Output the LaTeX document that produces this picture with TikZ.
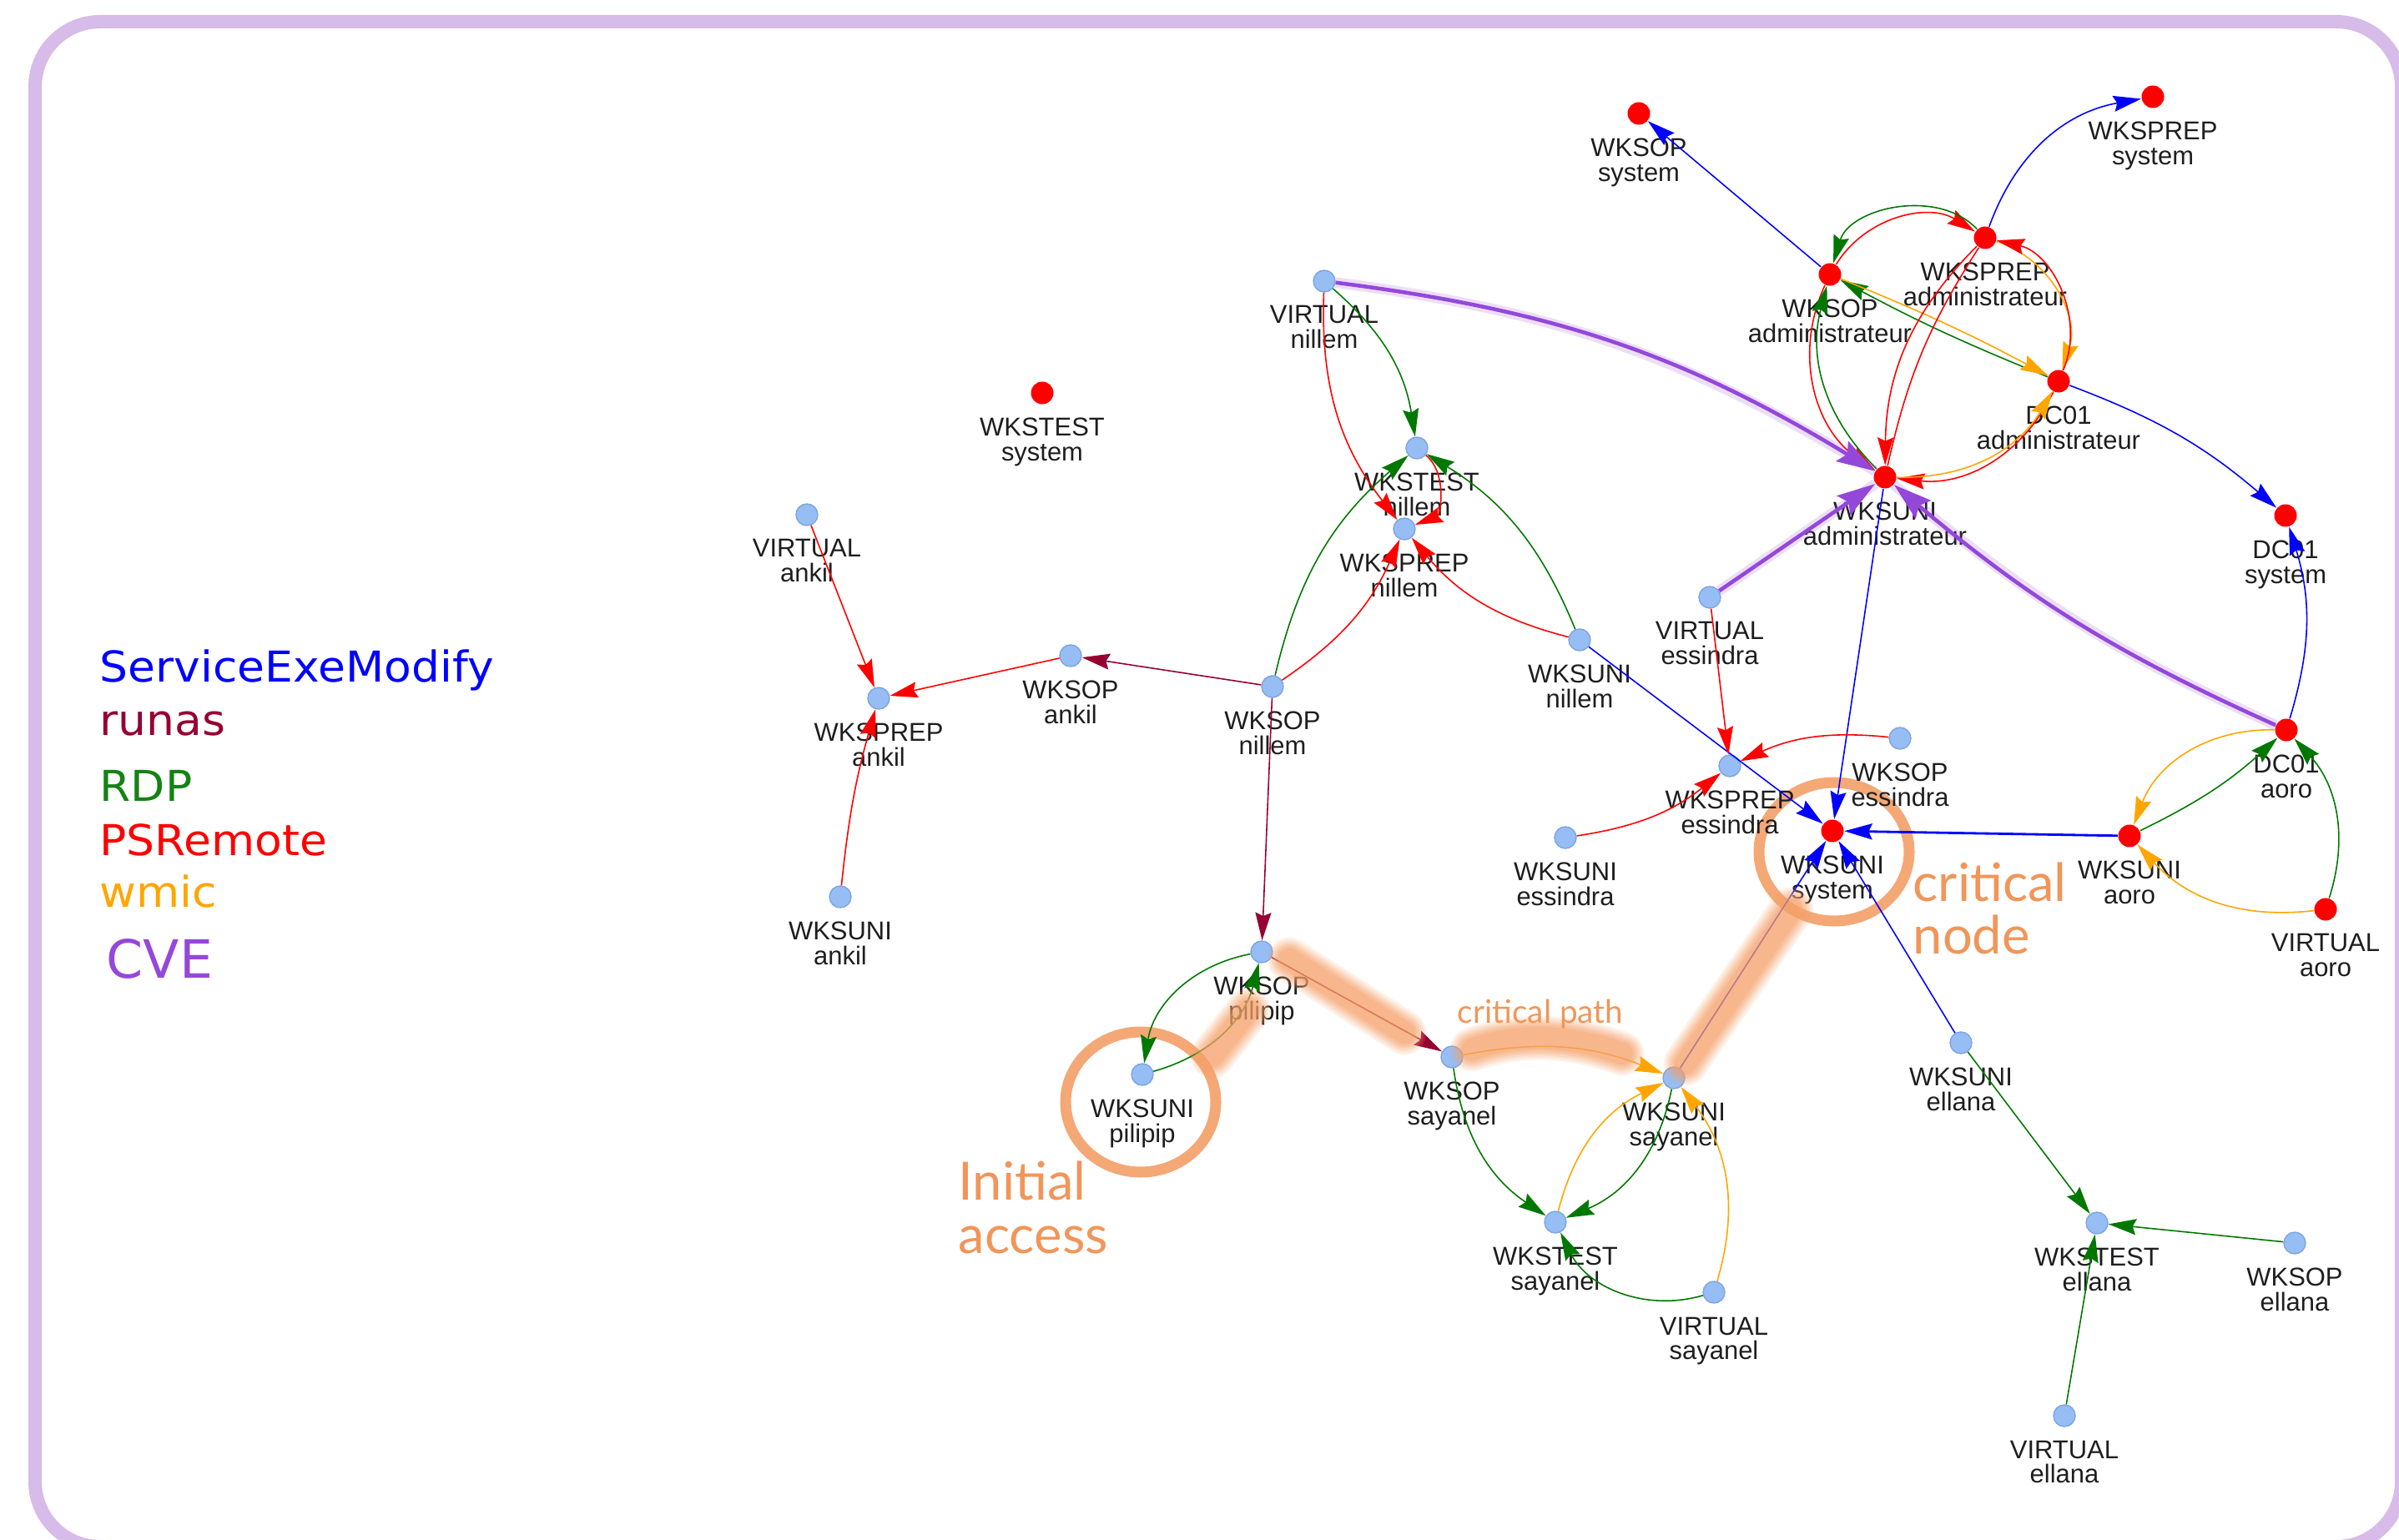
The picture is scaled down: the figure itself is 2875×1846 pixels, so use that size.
\documentclass[tikz,border=0pt]{standalone}
\usepackage{fontspec}
\usepackage{graphicx}
\setmainfont{Liberation Sans}
\newfontfamily\legfont{DejaVu Sans}
\newfontfamily\latofont{Lato}
\usetikzlibrary{arrows.meta}
\definecolor{cBlue}{RGB}{0,0,255}
\definecolor{cRun}{RGB}{150,0,50}
\definecolor{cGreen}{RGB}{0,120,0}
\definecolor{cLegG}{RGB}{20,130,20}
\definecolor{cRed}{RGB}{255,0,0}
\definecolor{cOr}{RGB}{255,165,0}
\definecolor{cCve}{RGB}{148,72,218}
\definecolor{cHi}{RGB}{244,160,105}
\definecolor{cHiT}{RGB}{240,150,90}
\definecolor{cRing}{RGB}{244,168,118}
\definecolor{cFrame}{RGB}{215,187,232}
\definecolor{cNode}{RGB}{150,190,245}
\definecolor{cNodeB}{RGB}{125,165,225}
\definecolor{cTxt}{RGB}{30,30,30}
\newcommand{\gnode}[5]{\node[#1] (#2) at (#3,-#4) {};\node[lab] (#2-t) at (#3,{-#4-29}) {#5};}
\begin{document}
\begin{tikzpicture}[x=0.01cm,y=0.01cm,
  bn/.style={circle, fill=cNode, draw=cNodeB, line width=0.4pt, minimum size=0.26cm, inner sep=0pt},
  rn/.style={circle, fill=cRed, minimum size=0.27cm, inner sep=0pt},
  lab/.style={anchor=north, inner sep=0pt, align=center, text=cTxt, font=\fontsize{8.8}{8.5}\selectfont},
  ar/.style={line width=0.45pt, -{Stealth[length=9.5pt,width=5.4pt,inset=1.2pt]}},
  sem/.style={ar, draw=cBlue},
  run/.style={ar, draw=cRun},
  rdp/.style={ar, draw=cGreen},
  psr/.style={ar, draw=cRed},
  wmi/.style={ar, draw=cOr},
  cve/.style={line width=1.3pt, draw=cCve, -{Stealth[length=13pt,width=8pt,inset=2pt]},
     preaction={draw=cCve, line width=3.6pt, opacity=0.18, -}},
  leg/.style={anchor=base west, inner sep=0pt, font=\legfont\fontsize{14.5}{16}\selectfont},
  ann/.style={anchor=base west, inner sep=0pt, text=cHiT, font=\latofont\fontsize{18}{18}\selectfont},
  hi/.style={draw=cHi, line cap=round, line join=round},
  ring/.style={draw=cRing, line width=3.7pt}
]
\useasboundingbox (0,0) rectangle (2875,-1846);
\clip (0,0) rectangle (2875,-1846);
\draw[cFrame, line width=4.55pt, rounded corners=0.78cm] (42,-26) rectangle (2878,-1854);

% legend
\node[leg, text=cBlue] (lg1) at (119,-818) {\scalebox{1.05}[1]{ServiceExeModify}};
\node[leg, text=cRun] (lg2) at (119,-882) {\scalebox{1.05}[1]{runas}};
\node[leg, text=cLegG] (lg3) at (119,-961) {\scalebox{1.05}[1]{RDP}};
\node[leg, text=cRed] (lg4) at (119,-1025) {\scalebox{1.05}[1]{PSRemote}};
\node[leg, text=cOr] (lg5) at (119,-1087) {\scalebox{1.05}[1]{wmic}};
\node[leg, text=cCve, font=\legfont\fontsize{18}{20}\selectfont] (lg6) at (127,-1172) {CVE};

% rings
\draw[ring] (1367,-1321) ellipse [x radius=90, y radius=84];
\draw[ring] (2198,-1021) ellipse [x radius=90, y radius=83];

% nodes
\gnode{rn}{sopsys}{1964}{136}{WKSOP\\system}
\gnode{rn}{sprepsys}{2580}{116}{WKSPREP\\system}
\gnode{rn}{sopadm}{2193}{329}{WKSOP\\administrateur}
\gnode{rn}{sprepadm}{2379}{285}{WKSPREP\\administrateur}
\gnode{rn}{dcadm}{2467}{457}{DC01\\administrateur}
\gnode{rn}{suniadm}{2259}{572}{WKSUNI\\administrateur}
\gnode{rn}{dcsys}{2739}{618}{DC01\\system}
\gnode{rn}{dcaoro}{2740}{875}{DC01\\aoro}
\gnode{rn}{suniaoro}{2552}{1002}{WKSUNI\\aoro}
\gnode{rn}{virtaoro}{2787}{1090}{VIRTUAL\\aoro}
\gnode{rn}{sunisys}{2196}{996}{WKSUNI\\system}
\gnode{rn}{stestsys}{1249}{471}{WKSTEST\\system}
\gnode{bn}{sopess}{2277}{885}{WKSOP\\essindra}
\gnode{bn}{sprepess}{2073}{918}{WKSPREP\\essindra}
\gnode{bn}{virtess}{2049}{716}{VIRTUAL\\essindra}
\gnode{bn}{suniess}{1876}{1004}{WKSUNI\\essindra}
\gnode{bn}{suninil}{1893}{767}{WKSUNI\\nillem}
\gnode{bn}{virtnil}{1587}{337}{VIRTUAL\\nillem}
\gnode{bn}{stestnil}{1698}{537}{WKSTEST\\nillem}
\gnode{bn}{sprepnil}{1683}{634}{WKSPREP\\nillem}
\gnode{bn}{sopnil}{1525}{823}{WKSOP\\nillem}
\gnode{bn}{sopank}{1283}{786}{WKSOP\\ankil}
\gnode{bn}{sprepank}{1053}{837}{WKSPREP\\ankil}
\gnode{bn}{virtank}{967}{617}{VIRTUAL\\ankil}
\gnode{bn}{suniank}{1007}{1075}{WKSUNI\\ankil}
\gnode{bn}{soppil}{1512}{1141}{WKSOP\\pilipip}
\gnode{bn}{sunipil}{1369}{1288}{WKSUNI\\pilipip}
\gnode{bn}{sopsay}{1740}{1267}{WKSOP\\sayanel}
\gnode{bn}{sunisay}{2006}{1292}{WKSUNI\\sayanel}
\gnode{bn}{stestsay}{1864}{1465}{WKSTEST\\sayanel}
\gnode{bn}{virtsay}{2054}{1549}{VIRTUAL\\sayanel}
\gnode{bn}{suniell}{2350}{1250}{WKSUNI\\ellana}
\gnode{bn}{stestell}{2513}{1466}{WKSTEST\\ellana}
\gnode{bn}{sopell}{2750}{1490}{WKSOP\\ellana}
\gnode{bn}{virtell}{2474}{1697}{VIRTUAL\\ellana}

% ServiceExeModify
\draw[sem] (sopadm) -- (sopsys);
\draw[sem] (sprepadm) to[bend left=30] (sprepsys);
\draw[sem] (dcadm) to[bend left=10] (dcsys);
\draw[sem] (dcaoro) to[bend right=17] (dcsys);
\draw[sem] (suniadm) -- (sunisys);
\draw[sem, line width=0.8pt] (suniaoro) -- (sunisys);
\draw[sem] (suninil) -- (sunisys);
\draw[sem] (sunisay) -- (sunisys);
\draw[sem] (suniell) -- (sunisys);

% admin cluster
\draw[psr] (sopadm) to[bend left=45] (sprepadm);
\draw[rdp] (sprepadm) to[bend right=60] (sopadm);
\draw[rdp] (dcadm) to[bend left=3] (sopadm);
\draw[wmi] (sopadm) to[bend left=3] (dcadm);
\draw[wmi] (sprepadm) to[bend left=45] (dcadm);
\draw[psr] (dcadm) to[bend right=50] (sprepadm);
\draw[psr] (sopadm) to[bend right=40] (suniadm);
\draw[rdp] (suniadm) to[bend left=30] (sopadm);
\draw[psr] (sprepadm) to[bend right=22] (suniadm);
\draw[cRed, line width=0.45pt] (sprepadm) to[bend right=10] (suniadm);
\draw[psr] (dcadm) to[bend left=35] (suniadm);
\draw[wmi] (suniadm) to[bend right=30] (dcadm);

% CVE
\draw[cve] (virtnil) to[bend left=12] (suniadm);
\draw[cve] (virtess) -- (suniadm);
\draw[cve] (dcaoro) to[bend left=8] (suniadm);

% nillem / ankil
\draw[rdp] (virtnil) to[bend left=20] (stestnil);
\draw[psr] (virtnil) to[bend right=20] (sprepnil);
\draw[psr] (stestnil) to[bend left=60] (sprepnil);
\draw[rdp] (sopnil) to[bend left=18] (stestnil);
\draw[rdp] (suninil) to[bend right=18] (stestnil);
\draw[psr] (sopnil) to[bend right=16] (sprepnil);
\draw[psr] (suninil) to[bend left=18] (sprepnil);
\draw[run] (sopnil) -- (sopank);
\draw[psr] (sopank) -- (sprepank);
\draw[psr] (virtank) -- (sprepank);
\draw[psr] (suniank) to[bend left=5] (sprepank);
\draw[run] (sopnil) -- (soppil);

% essindra
\draw[psr] (virtess) -- (sprepess);
\draw[psr] (sopess) to[bend right=15] (sprepess);
\draw[psr] (suniess) to[bend right=15] (sprepess);

% aoro
\draw[wmi] (dcaoro) to[bend right=35] (suniaoro);
\draw[rdp] (suniaoro) to[bend right=8] (dcaoro);
\draw[rdp] (virtaoro) to[bend right=30] (dcaoro);
\draw[wmi] (virtaoro) to[bend left=27] (suniaoro);

% pilipip / sayanel
\draw[rdp] (soppil) to[bend right=35] (sunipil);
\draw[rdp] (sunipil) to[bend right=30] (soppil);
\draw[run] (soppil) -- (sopsay);
\draw[wmi] (sopsay) to[bend left=16] (sunisay);
\draw[rdp] (sopsay) to[bend right=24] (stestsay);
\draw[rdp] (sunisay) to[bend left=28] (stestsay);
\draw[wmi] (stestsay) to[bend left=25] (sunisay);
\draw[wmi] (virtsay) to[bend right=27] (sunisay);
\draw[rdp] (virtsay) to[bend left=40] (stestsay);

% ellana
\draw[rdp] (suniell) -- (stestell);
\draw[rdp] (sopell) -- (stestell);
\draw[rdp] (virtell) -- (stestell);

% critical path highlight (soft layered band)
\foreach \w/\o in {15/0.14, 13.5/0.16, 12/0.19, 10.5/0.22, 9/0.26, 7.5/0.3} {
  \draw[hi, line width=\w pt, opacity=\o] (1453,-1266) -- (1496,-1211);
  \draw[hi, line width=\w pt, opacity=\o] (1545,-1150) -- (1683,-1238);
  \draw[hi, line width=\w pt, opacity=\o] (1764,-1258) .. controls (1820,-1238) and (1880,-1240) .. (1944,-1263);
  \draw[hi, line width=\w pt, opacity=\o] (2020,-1275) -- (2147,-1090);
}

% annotations
\node[ann, font=\latofont\fontsize{11}{11}\selectfont] (tcp) at (1746,-1226) {critical path};
\node[ann] (tia1) at (1148,-1438) {Initial};
\node[ann] (tia2) at (1148,-1502) {access};
\node[ann] (tcn1) at (2292,-1080) {critical};
\node[ann] (tcn2) at (2292,-1143) {node};
\end{tikzpicture}
\end{document}
